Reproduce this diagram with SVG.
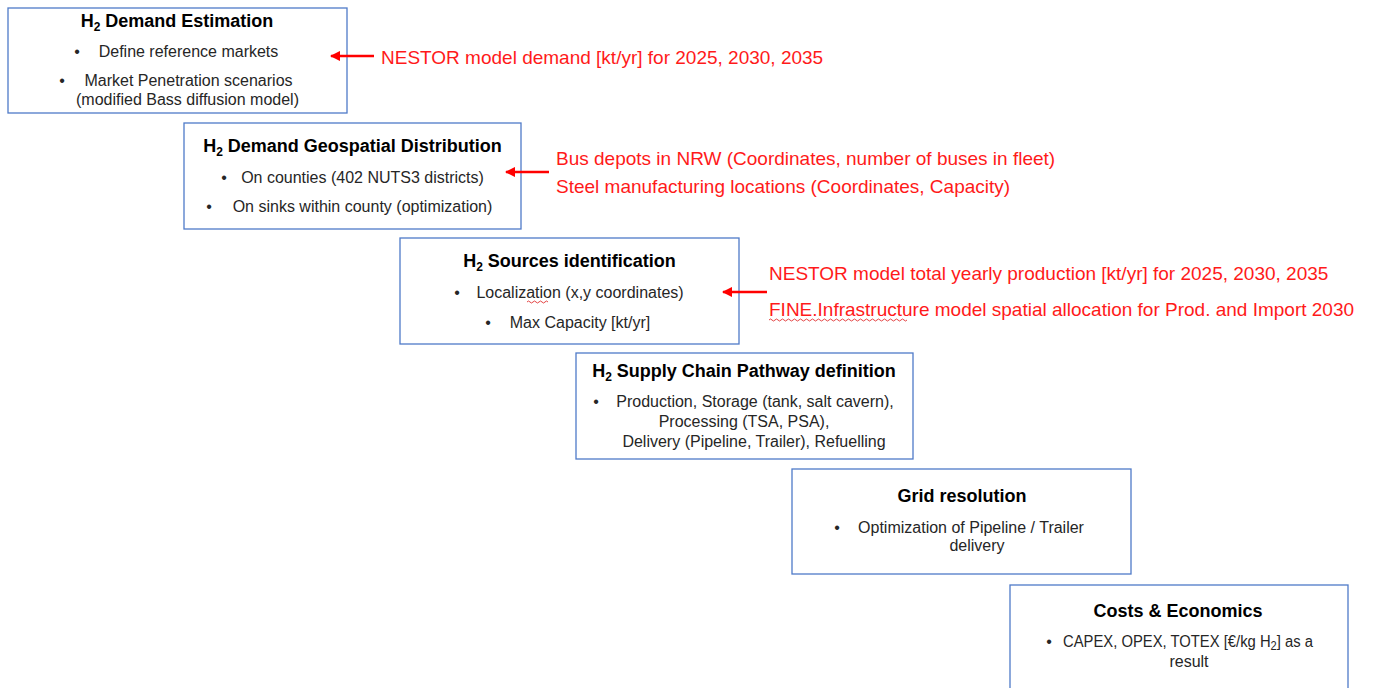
<svg xmlns="http://www.w3.org/2000/svg" width="1377" height="688" viewBox="0 0 1377 688">
  <defs>
    <marker id="redHead" viewBox="0 0 10 10" refX="9" refY="5" markerWidth="4" markerHeight="4" orient="auto-start-reverse" markerUnits="strokeWidth">
      <path d="M0,0 L10,5 L0,10 z" fill="#ff0000"/>
    </marker>
    <style>
      .box { fill: #ffffff; stroke: #4f7ac8; stroke-width: 1.3; }
      .title { font-family: "Liberation Sans", Arial, sans-serif; font-size: 18px; font-weight: bold; fill: #000000; text-anchor: middle; }
      .body { font-family: "Liberation Sans", Arial, sans-serif; font-size: 16px; fill: #262626; text-anchor: middle; }
      .left { text-anchor: start; }
      .dot { font-family: "Liberation Sans", Arial, sans-serif; font-size: 16px; fill: #262626; text-anchor: middle; }
      .note { font-family: "Liberation Sans", Arial, sans-serif; font-size: 19px; fill: #ff1a1a; }
      .sub { font-size: 12px; }
      .link { stroke: #ff0000; stroke-width: 2.6; fill: none; }
      .squiggle { stroke: #e03030; stroke-width: 0.9; fill: none; }
    </style>
  </defs>
  <rect width="1377" height="688" fill="#ffffff"/>

  <!-- Step 1 -->
  <g id="demand-estimation">
    <rect class="box" x="8" y="8" width="339" height="105"/>
    <text class="title" x="177" y="27">H<tspan class="sub" dy="4">2</tspan><tspan dy="-4"> Demand Estimation</tspan></text>
    <text class="dot" x="77" y="57">•</text>
    <text class="body" x="188.5" y="57">Define reference markets</text>
    <text class="dot" x="62" y="86">•</text>
    <text class="body" x="188.5" y="86">Market Penetration scenarios</text>
    <text class="body" x="187.5" y="105">(modified Bass diffusion model)</text>
  </g>

  <!-- Step 2 -->
  <g id="demand-geospatial">
    <rect class="box" x="184" y="123" width="337" height="106"/>
    <text class="title" x="352.5" y="152">H<tspan class="sub" dy="4">2</tspan><tspan dy="-4"> Demand Geospatial Distribution</tspan></text>
    <text class="dot" x="224" y="183">•</text>
    <text class="body" x="362.5" y="183">On counties (402 NUTS3 districts)</text>
    <text class="dot" x="209" y="212">•</text>
    <text class="body" x="362.5" y="212">On sinks within county (optimization)</text>
  </g>

  <!-- Step 3 -->
  <g id="sources-identification">
    <rect class="box" x="400" y="238" width="339" height="106"/>
    <text class="title" x="569.5" y="267">H<tspan class="sub" dy="4">2</tspan><tspan dy="-4"> Sources identification</tspan></text>
    <text class="dot" x="457" y="298">•</text>
    <text class="body" x="580" y="298">Localization (x,y coordinates)</text>
    <path class="squiggle" d="M527,302 q1.5,-2 3,0 t3,0 t3,0 t3,0 t3,0 t3,0 t3,0"/>
    <text class="dot" x="488" y="328">•</text>
    <text class="body" x="580" y="328">Max Capacity [kt/yr]</text>
  </g>

  <!-- Step 4 -->
  <g id="supply-chain-pathway">
    <rect class="box" x="576" y="353" width="337" height="106"/>
    <text class="title" x="744" y="377">H<tspan class="sub" dy="4">2</tspan><tspan dy="-4"> Supply Chain Pathway definition</tspan></text>
    <text class="dot" x="596" y="407">•</text>
    <text class="body" x="755" y="407">Production, Storage (tank, salt cavern),</text>
    <text class="body" x="744" y="427">Processing (TSA, PSA),</text>
    <text class="body" x="754" y="447">Delivery (Pipeline, Trailer), Refuelling</text>
  </g>

  <!-- Step 5 -->
  <g id="grid-resolution">
    <rect class="box" x="792" y="469" width="339" height="105"/>
    <text class="title" x="962" y="502">Grid resolution</text>
    <text class="dot" x="837" y="533">•</text>
    <text class="body" x="971" y="533">Optimization of Pipeline / Trailer</text>
    <text class="body" x="977" y="551">delivery</text>
  </g>

  <!-- Step 6 -->
  <g id="costs-economics">
    <rect class="box" x="1010" y="585" width="338" height="110"/>
    <text class="title" x="1178" y="617">Costs &amp; Economics</text>
    <text class="dot" x="1049" y="647">•</text>
    <text class="body left" x="1063" y="647" textLength="250" lengthAdjust="spacingAndGlyphs">CAPEX, OPEX, TOTEX [€/kg H<tspan class="sub" dy="3">2</tspan><tspan dy="-3">] as a</tspan></text>
    <text class="body" x="1189" y="667">result</text>
  </g>

  <!-- Input data notes and arrows -->
  <g id="connectors">
    <line class="link" x1="374" y1="56" x2="331" y2="56" marker-end="url(#redHead)"/>
    <line class="link" x1="549" y1="172" x2="506" y2="172" marker-end="url(#redHead)"/>
    <line class="link" x1="767" y1="292" x2="723" y2="292" marker-end="url(#redHead)"/>
  </g>

  <g id="input-notes">
    <text class="note" x="381" y="64">NESTOR model demand [kt/yr] for 2025, 2030, 2035</text>
    <text class="note" x="556" y="165">Bus depots in NRW (Coordinates, number of buses in fleet)</text>
    <text class="note" x="556" y="193">Steel manufacturing locations (Coordinates, Capacity)</text>
    <text class="note" x="769" y="280">NESTOR model total yearly production [kt/yr] for 2025, 2030, 2035</text>
    <text class="note" x="769" y="316">FINE.Infrastructure model spatial allocation for Prod. and Import 2030</text>
    <path class="squiggle" d="M769,320 q1.5,-2 3,0 t3,0 t3,0 t3,0 t3,0 t3,0 t3,0 t3,0 t3,0 t3,0 t3,0 t3,0 t3,0 t3,0 t3,0 t3,0 t3,0 t3,0 t3,0 t3,0 t3,0 t3,0 t3,0 t3,0 t3,0 t3,0 t3,0 t3,0 t3,0 t3,0 t3,0 t3,0 t3,0 t3,0 t3,0 t3,0 t3,0 t3,0 t3,0 t3,0 t3,0 t3,0 t3,0 t3,0 t3,0 t3,0"/>
  </g>
</svg>
